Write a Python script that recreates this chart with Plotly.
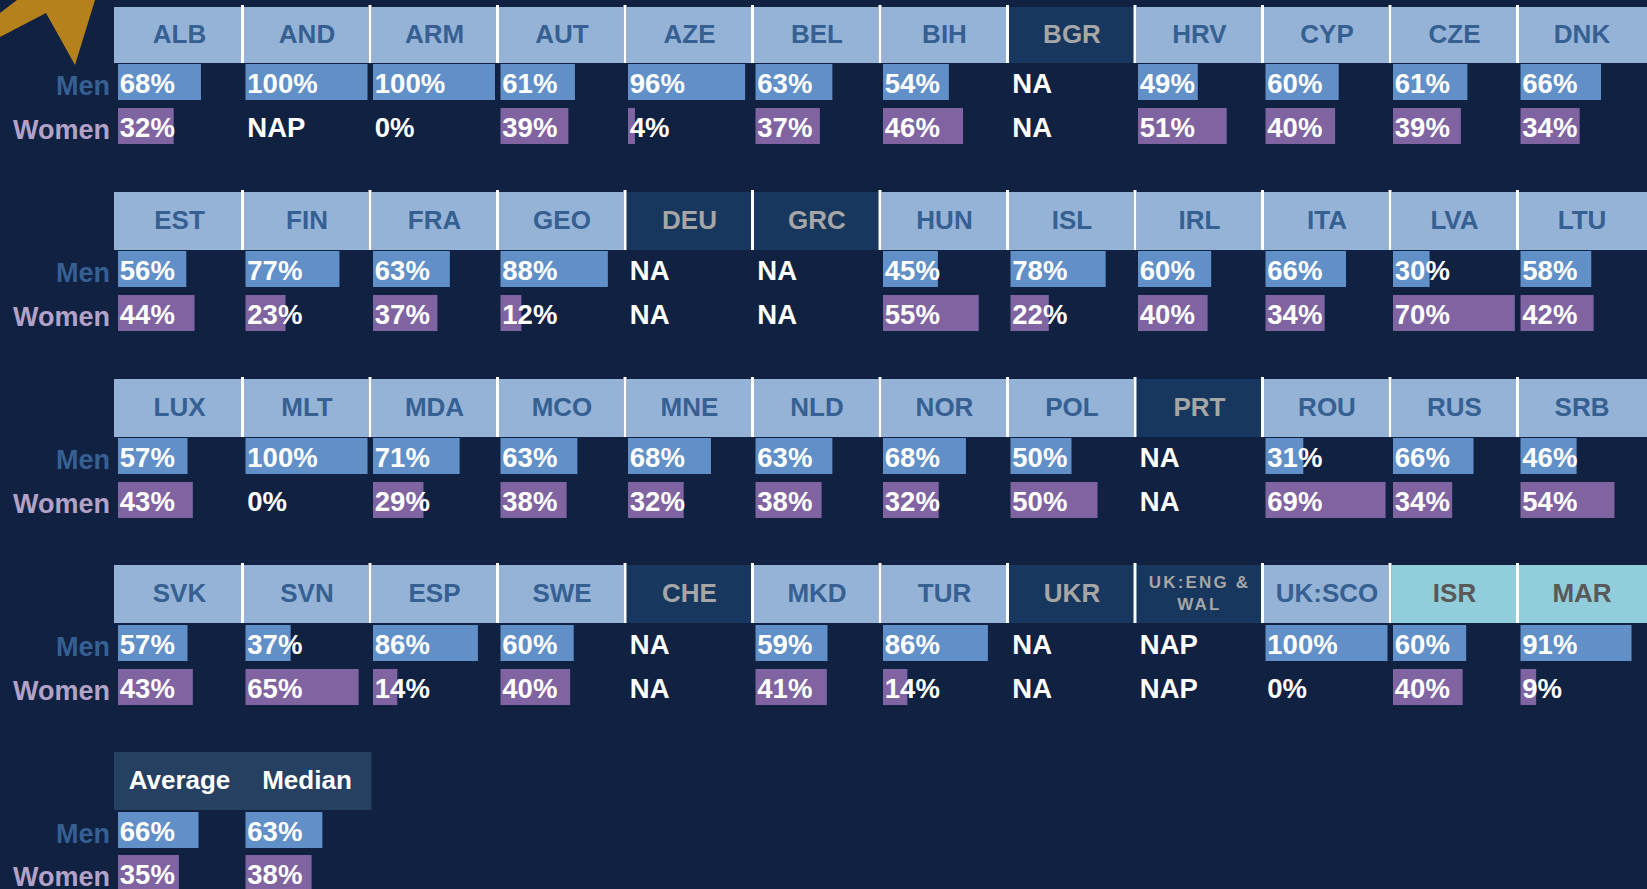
import plotly.graph_objects as go

# ---------- data ----------
rows_codes = [
    ["ALB","AND","ARM","AUT","AZE","BEL","BIH","BGR","HRV","CYP","CZE","DNK"],
    ["EST","FIN","FRA","GEO","DEU","GRC","HUN","ISL","IRL","ITA","LVA","LTU"],
    ["LUX","MLT","MDA","MCO","MNE","NLD","NOR","POL","PRT","ROU","RUS","SRB"],
    ["SVK","SVN","ESP","SWE","CHE","MKD","TUR","UKR","UK:ENG &<br>WAL","UK:SCO","ISR","MAR"],
    ["Average","Median"],
]
rows_men = [
    [68,100,100,61,96,63,54,"NA",49,60,61,66],
    [56,77,63,88,"NA","NA",45,78,60,66,30,58],
    [57,100,71,63,68,63,68,50,"NA",31,66,46],
    [57,37,86,60,"NA",59,86,"NA","NAP",100,60,91],
    [66,63],
]
rows_women = [
    [32,"NAP",0,39,4,37,46,"NA",51,40,39,34],
    [44,23,37,12,"NA","NA",55,22,40,34,70,42],
    [43,0,29,38,32,38,32,50,"NA",69,34,54],
    [43,65,14,40,"NA",41,14,"NA","NAP",0,40,9],
    [35,38],
]
dark_codes = ["BGR","DEU","GRC","PRT","CHE","UKR","UK:ENG &<br>WAL"]
teal_codes = ["ISR","MAR"]
summary_codes = ["Average","Median"]
row_labels = ["Men","Women"]

# ---------- layout constants ----------
W, H = 1647, 889
BG = "#112142"
FONT = "Liberation Sans"
COL_PITCH = 127.5
BAR_X0 = 118
MEN_PX, WOMEN_PX = 1.22, 1.74     # data bars are scaled per series
ROW_TOP = [7, 192, 379, 565, 752]
ROW_MEN = [64, 251, 438, 625, 812]
ROW_WOM = [108, 295, 482, 669, 855]
BAR_H = 36

head_cx, head_cy, head_w, head_c, head_h = [], [], [], [], []
div_x, div_y = [], []
txt = {}

def add_text(key, x, y, s):
    txt.setdefault(key, ([], [], []))
    txt[key][0].append(x); txt[key][1].append(y); txt[key][2].append(s)

for r, codes in enumerate(rows_codes):
    top = ROW_TOP[r]
    bottom = ROW_MEN[r] - 1 if r < 3 else ROW_MEN[r] - 2
    for c, code in enumerate(codes):
        left = 114 if c == 0 else 244 + COL_PITCH * (c - 1)
        right = W if c == 11 else 241 + COL_PITCH * c
        if code in summary_codes:
            right += 3
            color, tc = "#254061", "sum"
        elif code in dark_codes:
            color, tc = "#17375e", "dark"
        elif code in teal_codes:
            color, tc = "#92cddc", "teal"
        else:
            color, tc = "#95b3d7", "light"
        head_cx.append((left + right) / 2)
        head_cy.append((top + bottom) / 2)
        head_w.append(right - left)
        head_h.append(bottom - top)
        head_c.append(color)
        key = "small" if "<br>" in code else tc
        add_text(key, 179.5 + COL_PITCH * c, (top + bottom) / 2 + 1, code)
        if c > 0 and code not in summary_codes:
            div_x.append(241 + COL_PITCH * (c - 1))
            div_y.append((top - 2, bottom))

men_b, men_y, men_w = [], [], []
wom_b, wom_y, wom_w = [], [], []
for r, codes in enumerate(rows_codes):
    for c in range(len(codes)):
        x0 = BAR_X0 + COL_PITCH * c
        m, w = rows_men[r][c], rows_women[r][c]
        ym, yw = ROW_MEN[r] + BAR_H / 2, ROW_WOM[r] + BAR_H / 2
        if isinstance(m, (int, float)):
            men_b.append(x0); men_y.append(ym); men_w.append(m * MEN_PX)
            add_text("val", x0 + 1.8, ym + 4.5, f"{m}%")
        else:
            add_text("val", x0 + 1.8, ym + 4.5, m)
        if isinstance(w, (int, float)):
            wom_b.append(x0); wom_y.append(yw); wom_w.append(w * WOMEN_PX)
            add_text("val", x0 + 1.8, yw + 4.5, f"{w}%")
        else:
            add_text("val", x0 + 1.8, yw + 4.5, w)
    add_text("men", 110, ROW_MEN[r] + BAR_H / 2 + 6.5, row_labels[0])
    add_text("women", 110, ROW_WOM[r] + BAR_H / 2 + 6.5, row_labels[1])

fig = go.Figure()

# star fragment in the top-left corner
fig.add_trace(go.Scatter(x=[0, 17, 95, 75, 46, 0, 0], y=[13, 0, 0, 65, 13, 37, 13],
                         mode="lines", fill="toself", fillcolor="#b5811c",
                         line=dict(width=0), hoverinfo="skip"))

fig.add_trace(go.Bar(orientation="h", y=head_cy, x=head_w, base=[cx - w / 2 for cx, w in zip(head_cx, head_w)],
                     width=head_h, marker=dict(color=head_c, line=dict(width=0)), hoverinfo="skip"))
fig.add_trace(go.Bar(orientation="h", y=[(a + b) / 2 for a, b in div_y], x=[3] * len(div_x), base=div_x,
                     width=[b - a for a, b in div_y], marker=dict(color="#ffffff", line=dict(width=0)),
                     hoverinfo="skip"))
fig.add_trace(go.Bar(orientation="h", y=men_y, x=men_w, base=men_b, width=BAR_H,
                     name="Men", marker=dict(color="#618fc7", line=dict(width=0))))
fig.add_trace(go.Bar(orientation="h", y=wom_y, x=wom_w, base=wom_b, width=BAR_H,
                     name="Women", marker=dict(color="#8064a2", line=dict(width=0))))

styles = {
    "light": ("#366092", 26, "middle center"),
    "dark":  ("#a6a6a6", 26, "middle center"),
    "teal":  ("#595959", 26, "middle center"),
    "sum":   ("#ffffff", 26, "middle center"),
    "small": ("#a6a6a6", 17, "middle center"),
    "val":   ("#ffffff", 27.5, "middle right"),
    "men":   ("#366092", 27, "middle left"),
    "women": ("#b3a2c7", 27, "middle left"),
}
for key, (xs, ys, ss) in txt.items():
    color, size, pos = styles[key]
    fig.add_trace(go.Scatter(x=xs, y=ys, text=ss, mode="text", textposition=pos, cliponaxis=False,
                             textfont=dict(family=FONT, size=size, color=color, weight="bold"),
                             hoverinfo="skip"))

fig.update_layout(
    width=W, height=H, autosize=False, showlegend=False, barmode="overlay",
    paper_bgcolor=BG, plot_bgcolor=BG, margin=dict(l=0, r=0, t=0, b=0),
    xaxis=dict(range=[0, W], visible=False, fixedrange=True),
    yaxis=dict(range=[H, 0], visible=False, fixedrange=True),
)
# the page's default margin would push the figure off the window; the double-line
# header in the reference is letter-spaced, which plotly has no attribute for
post = """
document.body.style.margin = '0';
document.body.style.background = '%s';
document.documentElement.style.overflow = 'hidden';
document.querySelectorAll('g.textpoint text').forEach(function (t) {
  if (t.textContent.indexOf('UK:ENG') === 0) { t.style.letterSpacing = '2.2px'; }
});
""" % BG
fig.write_html("out.html", config={"displayModeBar": False}, post_script=post)
